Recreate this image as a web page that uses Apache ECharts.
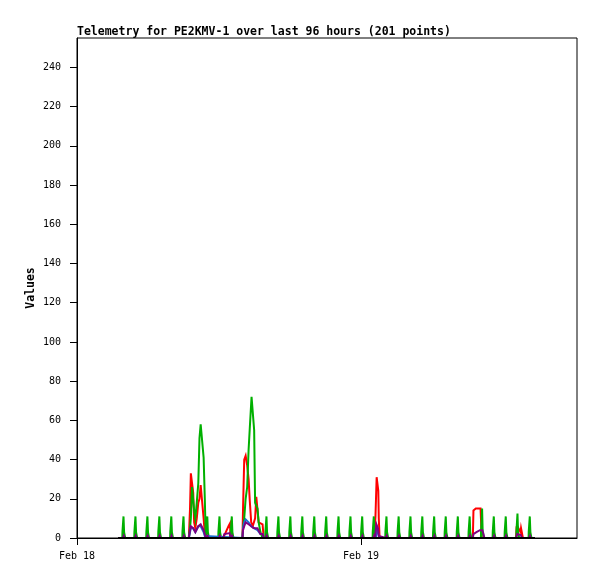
<!DOCTYPE html>
<html>
<head>
<meta charset="utf-8">
<script src="https://cdn.jsdelivr.net/npm/echarts@6/dist/echarts.min.js"></script>
<style>
html,body{margin:0;padding:0;background:#fff;}
#chart{width:597px;height:579px;}
</style>
</head>
<body>
<div id="chart"></div>
<script>
// x values are hours after Feb 18 00:00
const xTickValues = [0, 24];
const xTickLabels = ['Feb 18', 'Feb 19'];
const yTickValues = [0, 20, 40, 60, 80, 100, 120, 140, 160, 180, 200, 220, 240];

const redData = [
  [3.47,0],
  [9.45,0],[9.55,15],[9.62,33],[9.72,33],[9.82,23],[9.9,8],[10.0,5],[10.12,10],[10.25,18],[10.35,20],[10.45,27],[10.6,27],[10.7,10],[10.8,2],[10.88,0],
  [12.35,0],[12.5,2],[12.65,4],[12.8,6],[12.93,7.5],[12.97,0],
  [13.98,0],[14.03,15],[14.13,40],[14.25,42],[14.38,37],[14.5,30],[14.6,19],[14.72,8],[14.85,6],[14.97,6],[15.05,10],[15.15,21],[15.25,21],[15.35,8],[15.5,7.5],[15.68,7],[15.78,0],
  [25.12,0],[25.22,11],[25.28,11],[25.32,31],[25.42,31],[25.46,24],[25.5,10],[25.57,0],
  [33.45,0],[33.5,14],[33.6,13],[33.7,15],[33.8,14],[33.9,15],[34.0,14],[34.1,15],[34.15,14],[34.2,0],
  [37.1,0],[37.15,6],[37.2,3],[37.3,5],[37.4,5],[37.48,3],[37.52,5],[37.6,4],[37.68,0],
  [38.7,0]
];

const greenData = [
  [3.47,0],
  [3.83,0],[3.84,3],[3.92,3],[3.93,11],[3.97,11],[3.98,3],[4.06,3],[4.07,0],
  [4.84,0],[4.85,3],[4.93,3],[4.94,11],[4.98,11],[4.99,3],[5.07,3],[5.08,0],
  [5.85,0],[5.86,3],[5.94,3],[5.95,11],[5.99,11],[6.00,3],[6.08,3],[6.09,0],
  [6.86,0],[6.87,3],[6.95,3],[6.96,11],[7.00,11],[7.01,3],[7.09,3],[7.10,0],
  [7.87,0],[7.88,3],[7.96,3],[7.97,11],[8.01,11],[8.02,3],[8.10,3],[8.11,0],
  [8.90,0],[8.91,3],[8.99,3],[9.00,11],[9.04,11],[9.05,3],[9.13,3],[9.14,0],
  [9.45,0],[9.55,5],[9.62,10],[9.72,26],[9.82,26],[9.9,14],[10.0,10],[10.12,18],[10.25,28],[10.35,51],[10.45,58],[10.6,57],[10.7,41],[10.8,20],[10.88,0],
  [10.91,0],[10.92,3],[11.00,3],[11.01,11],[11.05,11],[11.06,3],[11.14,3],[11.15,0],
  [11.94,0],[11.95,3],[12.03,3],[12.04,11],[12.08,11],[12.09,3],[12.17,3],[12.18,0],
  [12.98,0],[12.99,3],[13.07,3],[13.08,11],[13.12,11],[13.13,3],[13.21,3],[13.22,0],
  [13.98,0],[14.03,5],[14.13,10],[14.25,20],[14.38,26],[14.5,45],[14.6,56],[14.75,72],[14.88,72],[14.97,55],[15.05,18],[15.15,17],[15.25,15],[15.35,8],[15.5,3],[15.68,0],
  [15.91,0],[15.92,3],[16.00,3],[16.01,11],[16.05,11],[16.06,3],[16.14,3],[16.15,0],
  [16.92,0],[16.93,3],[17.01,3],[17.02,11],[17.06,11],[17.07,3],[17.15,3],[17.16,0],
  [17.93,0],[17.94,3],[18.02,3],[18.03,11],[18.07,11],[18.08,3],[18.16,3],[18.17,0],
  [18.94,0],[18.95,3],[19.03,3],[19.04,11],[19.08,11],[19.09,3],[19.17,3],[19.18,0],
  [19.95,0],[19.96,3],[20.04,3],[20.05,11],[20.09,11],[20.10,3],[20.18,3],[20.19,0],
  [20.96,0],[20.97,3],[21.05,3],[21.06,11],[21.10,11],[21.11,3],[21.19,3],[21.20,0],
  [22.00,0],[22.01,3],[22.09,3],[22.10,11],[22.14,11],[22.15,3],[22.23,3],[22.24,0],
  [23.01,0],[23.02,3],[23.10,3],[23.11,11],[23.15,11],[23.16,3],[23.24,3],[23.25,0],
  [24.00,0],[24.01,3],[24.09,3],[24.10,11],[24.14,11],[24.15,3],[24.23,3],[24.24,0],
  [24.98,0],[24.99,3],[25.07,3],[25.08,11],[25.12,11],[25.13,3],[25.21,3],[25.22,0],
  [26.05,0],[26.06,3],[26.14,3],[26.15,11],[26.19,11],[26.20,3],[26.28,3],[26.29,0],
  [27.08,0],[27.09,3],[27.17,3],[27.18,11],[27.22,11],[27.23,3],[27.31,3],[27.32,0],
  [28.08,0],[28.09,3],[28.17,3],[28.18,11],[28.22,11],[28.23,3],[28.31,3],[28.32,0],
  [29.08,0],[29.09,3],[29.17,3],[29.18,11],[29.22,11],[29.23,3],[29.31,3],[29.32,0],
  [30.08,0],[30.09,3],[30.17,3],[30.18,11],[30.22,11],[30.23,3],[30.31,3],[30.32,0],
  [31.06,0],[31.07,3],[31.15,3],[31.16,11],[31.20,11],[31.21,3],[31.29,3],[31.30,0],
  [32.08,0],[32.09,3],[32.17,3],[32.18,11],[32.22,11],[32.23,3],[32.31,3],[32.32,0],
  [33.08,0],[33.09,3],[33.17,3],[33.18,11],[33.22,11],[33.23,3],[33.31,3],[33.32,0],
  [34.13,0],[34.14,3],[34.22,3],[34.23,15],[34.27,15],[34.28,3],[34.36,3],[34.37,0],
  [35.12,0],[35.13,3],[35.21,3],[35.22,11],[35.26,11],[35.27,3],[35.35,3],[35.36,0],
  [36.13,0],[36.14,3],[36.22,3],[36.23,11],[36.27,11],[36.28,3],[36.36,3],[36.37,0],
  [37.12,0],[37.13,3],[37.21,3],[37.22,12.5],[37.26,12.5],[37.27,3],[37.35,3],[37.36,0],
  [38.16,0],[38.17,3],[38.25,3],[38.26,11],[38.30,11],[38.31,3],[38.39,3],[38.40,0],
  [38.7,0]
];

const blueData = [
  [3.47,0],
  [9.45,0],[9.55,3],[9.62,5],[9.72,6],[9.82,5],[9.9,6],[10.0,3],[10.12,4],[10.25,6],[10.35,7],[10.45,6],[10.6,5],[10.7,3],[10.8,1],[10.88,0],
  [13.98,0],[14.03,5],[14.13,8],[14.25,9.5],[14.38,9],[14.5,8],[14.6,7],[14.72,6],[14.85,6],[14.97,5],[15.1,5],[15.25,4],[15.35,3],[15.5,2],[15.68,2],[15.78,0],
  [25.25,0],[25.32,5],[25.38,6],[25.45,4],[25.55,0],
  [38.7,0]
];

const purpleData = [
  [3.47,0],
  [3.87,0],[3.95,1.2],[4.03,0],
  [4.88,0],[4.96,1.2],[5.04,0],
  [5.89,0],[5.97,1.2],[6.05,0],
  [6.90,0],[6.98,1.2],[7.06,0],
  [7.91,0],[7.99,1.2],[8.07,0],
  [8.94,0],[9.02,1.2],[9.10,0],
  [9.45,0],[9.55,4],[9.62,6],[9.72,6],[9.82,5],[9.9,6],[10.0,3],[10.12,4],[10.25,6],[10.35,7],[10.45,7],[10.6,6],[10.7,4],[10.8,2],[10.88,0],
  [10.95,0],[11.03,1.2],[11.11,0],
  [11.98,0],[12.06,1.2],[12.14,0],
  [12.35,0],[12.45,2],[12.9,2.5],[12.97,0],
  [13.02,0],[13.10,1.2],[13.18,0],
  [13.98,0],[14.03,4],[14.13,6],[14.25,8],[14.38,8],[14.5,7],[14.6,7],[14.72,6],[14.85,5.5],[14.97,5],[15.1,5],[15.25,5],[15.35,4],[15.5,2],[15.68,2],[15.78,0],
  [15.95,0],[16.03,1.2],[16.11,0],
  [16.96,0],[17.04,1.2],[17.12,0],
  [17.97,0],[18.05,1.2],[18.13,0],
  [18.98,0],[19.06,1.2],[19.14,0],
  [19.99,0],[20.07,1.2],[20.15,0],
  [21.00,0],[21.08,1.2],[21.16,0],
  [22.04,0],[22.12,1.2],[22.20,0],
  [23.05,0],[23.13,1.2],[23.21,0],
  [24.04,0],[24.12,1.2],[24.20,0],
  [25.02,0],[25.10,1.2],[25.18,0],
  [25.25,0],[25.3,7],[25.35,7.5],[25.43,5],[25.5,1],[25.57,0],
  [26.09,0],[26.17,1.2],[26.25,0],
  [27.12,0],[27.20,1.2],[27.28,0],
  [28.12,0],[28.20,1.2],[28.28,0],
  [29.12,0],[29.20,1.2],[29.28,0],
  [30.12,0],[30.20,1.2],[30.28,0],
  [31.10,0],[31.18,1.2],[31.26,0],
  [32.12,0],[32.20,1.2],[32.28,0],
  [33.12,0],[33.20,1.2],[33.28,0],
  [33.45,0],[33.5,2],[33.65,2.5],[33.75,3],[33.9,3.5],[34.05,4],[34.25,4],[34.35,2],[34.42,0],
  [35.16,0],[35.24,1.2],[35.32,0],
  [36.17,0],[36.25,1.2],[36.33,0],
  [37.1,0],[37.2,2],[37.35,2.5],[37.5,1.5],[37.6,0],
  [38.20,0],[38.28,1.2],[38.36,0],
  [38.7,0]
];

const blackData = [[3.47,0],[38.7,0]];

const mono = 'DejaVu Sans Mono';
const chart = echarts.init(document.getElementById('chart'), null, {renderer: 'canvas'});

function mkLine(name, data, color) {
  return {
    name: name, type: 'line', data: data, showSymbol: false, symbol: 'none',
    lineStyle: {color: color, width: 2, join: 'miter'}, itemStyle: {color: color},
    animation: false, z: 2
  };
}

chart.setOption({
  animation: false,
  backgroundColor: '#ffffff',
  title: {
    text: 'Telemetry for PE2KMV-1 over last 96 hours (201 points)',
    left: 77, top: 26, padding: 0,
    textStyle: {fontFamily: mono, fontSize: 11.5, fontWeight: 'bold', color: '#000', lineHeight: 12}
  },
  grid: {
    left: 77, top: 38, width: 500, height: 500,
    show: true, borderColor: '#000', borderWidth: 1, backgroundColor: 'transparent'
  },
  xAxis: {
    type: 'value', min: 0, max: 42.25,
    axisLine: {show: true, lineStyle: {color: '#000', width: 1}},
    axisTick: {show: true, length: 7, customValues: xTickValues, lineStyle: {color: '#000'}},
    axisLabel: {
      show: true, customValues: xTickValues, margin: 13,
      fontFamily: mono, fontSize: 10, color: '#000',
      formatter: function (v) { const i = xTickValues.indexOf(v); return i >= 0 ? xTickLabels[i] : ''; }
    },
    splitLine: {show: false}
  },
  yAxis: {
    type: 'value', min: 0, max: 255,
    name: 'Values', nameLocation: 'middle', nameGap: 40, nameMoveOverlap: false,
    nameTextStyle: {fontFamily: mono, fontSize: 11.5, fontWeight: 'bold', color: '#000'},
    axisLine: {show: true, lineStyle: {color: '#000', width: 1}},
    axisTick: {show: true, length: 7, customValues: yTickValues, lineStyle: {color: '#000'}},
    axisLabel: {show: true, customValues: yTickValues, margin: 16, fontFamily: mono, fontSize: 10, color: '#000'},
    splitLine: {show: false}
  },
  series: [
    mkLine('red', redData, '#ff0000'),
    mkLine('green', greenData, '#00b000'),
    mkLine('blue', blueData, '#1a6fd0'),
    mkLine('purple', purpleData, '#800080'),
    mkLine('black', blackData, '#000000')
  ]
});
</script>
</body>
</html>
